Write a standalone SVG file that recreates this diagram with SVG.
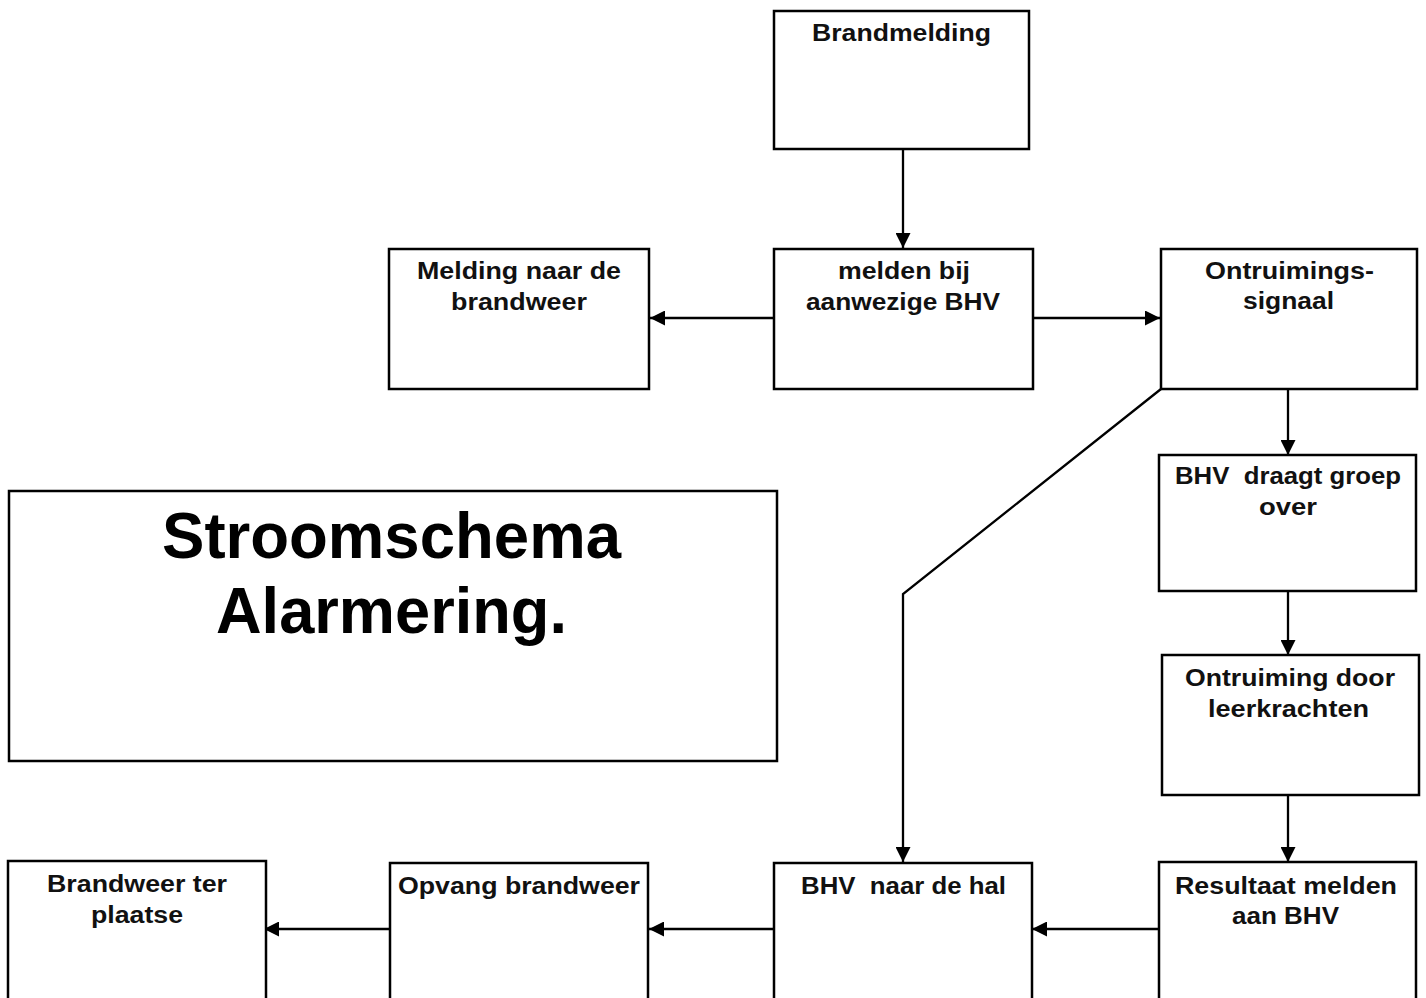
<svg xmlns="http://www.w3.org/2000/svg" width="1426" height="998" viewBox="0 0 1426 998">
<style>
.box{fill:#fff;stroke:#000;stroke-width:2.5}
.t{font-family:"Liberation Sans",Arial,sans-serif;font-weight:bold;font-size:23px;fill:#111;text-anchor:middle}
.title{font-family:"Liberation Sans",Arial,sans-serif;font-weight:bold;font-size:65px;fill:#000;text-anchor:middle}
.c{stroke:#000;stroke-width:2.3;fill:none}
</style>
<defs>
<marker id="ah" viewBox="0 0 15 15" refX="15" refY="7.5" markerWidth="15" markerHeight="15" markerUnits="userSpaceOnUse" orient="auto">
<path d="M0,0 L15,7.5 L0,15 Z" fill="#000"/>
</marker>
</defs>
<rect width="1426" height="998" fill="#fff"/>
<g id="connectors">
<line class="c" x1="903" y1="150" x2="903" y2="248" marker-end="url(#ah)"/>
<line class="c" x1="774" y1="318" x2="650" y2="318" marker-end="url(#ah)"/>
<line class="c" x1="1033" y1="318" x2="1160" y2="318" marker-end="url(#ah)"/>
<polyline class="c" points="1161,389 903,594 903,862" marker-end="url(#ah)"/>
<line class="c" x1="1288" y1="386" x2="1288" y2="455" marker-end="url(#ah)"/>
<line class="c" x1="1288" y1="592" x2="1288" y2="655" marker-end="url(#ah)"/>
<line class="c" x1="1288" y1="796" x2="1288" y2="862" marker-end="url(#ah)"/>
<line class="c" x1="1159" y1="929" x2="1032" y2="929" marker-end="url(#ah)"/>
<line class="c" x1="774" y1="929" x2="649" y2="929" marker-end="url(#ah)"/>
<line class="c" x1="390" y1="929" x2="264" y2="929" marker-end="url(#ah)"/>
</g>
<g id="brandmelding">
<rect class="box" x="774" y="11" width="255" height="138"/>
<text class="t" x="901.5" y="41" textLength="179" lengthAdjust="spacingAndGlyphs">Brandmelding</text>
</g>
<g id="melden">
<rect class="box" x="774" y="249" width="259" height="140"/>
<text class="t" x="904" y="279" textLength="132" lengthAdjust="spacingAndGlyphs">melden bij</text>
<text class="t" x="903" y="310" textLength="194" lengthAdjust="spacingAndGlyphs">aanwezige BHV</text>
</g>
<g id="melding-brandweer">
<rect class="box" x="389" y="249" width="260" height="140"/>
<text class="t" x="519" y="279" textLength="204" lengthAdjust="spacingAndGlyphs">Melding naar de</text>
<text class="t" x="519" y="310" textLength="136" lengthAdjust="spacingAndGlyphs">brandweer</text>
</g>
<g id="ontruimingssignaal">
<rect class="box" x="1161" y="249" width="256" height="140"/>
<text class="t" x="1289.5" y="279" textLength="169" lengthAdjust="spacingAndGlyphs">Ontruimings-</text>
<text class="t" x="1288.5" y="309" textLength="91" lengthAdjust="spacingAndGlyphs">signaal</text>
</g>
<g id="bhv-draagt">
<rect class="box" x="1159" y="455" width="257" height="136"/>
<text class="t" x="1288" y="484" textLength="226" lengthAdjust="spacingAndGlyphs" xml:space="preserve">BHV  draagt groep</text>
<text class="t" x="1288" y="515" textLength="58" lengthAdjust="spacingAndGlyphs">over</text>
</g>
<g id="ontruiming-leerkrachten">
<rect class="box" x="1162" y="655" width="257" height="140"/>
<text class="t" x="1290" y="686" textLength="210" lengthAdjust="spacingAndGlyphs">Ontruiming door</text>
<text class="t" x="1288.5" y="717" textLength="161" lengthAdjust="spacingAndGlyphs">leerkrachten</text>
</g>
<g id="resultaat">
<rect class="box" x="1159" y="862" width="257" height="150"/>
<text class="t" x="1286" y="894" textLength="222" lengthAdjust="spacingAndGlyphs">Resultaat melden</text>
<text class="t" x="1285.5" y="924" textLength="107" lengthAdjust="spacingAndGlyphs">aan BHV</text>
</g>
<g id="bhv-hal">
<rect class="box" x="774" y="863" width="258" height="150"/>
<text class="t" x="903.5" y="894" textLength="205" lengthAdjust="spacingAndGlyphs" xml:space="preserve">BHV  naar de hal</text>
</g>
<g id="opvang">
<rect class="box" x="390" y="863" width="258" height="150"/>
<text class="t" x="519" y="894" textLength="242" lengthAdjust="spacingAndGlyphs">Opvang brandweer</text>
</g>
<g id="brandweer-plaatse">
<rect class="box" x="8" y="861" width="258" height="150"/>
<text class="t" x="137" y="892" textLength="180" lengthAdjust="spacingAndGlyphs">Brandweer ter</text>
<text class="t" x="137" y="923" textLength="92" lengthAdjust="spacingAndGlyphs">plaatse</text>
</g>
<g id="title">
<rect class="box" x="9" y="491" width="768" height="270"/>
<text class="title" x="391.5" y="558" textLength="459" lengthAdjust="spacingAndGlyphs">Stroomschema</text>
<text class="title" x="391.5" y="633" textLength="351" lengthAdjust="spacingAndGlyphs">Alarmering.</text>
</g>
</svg>
